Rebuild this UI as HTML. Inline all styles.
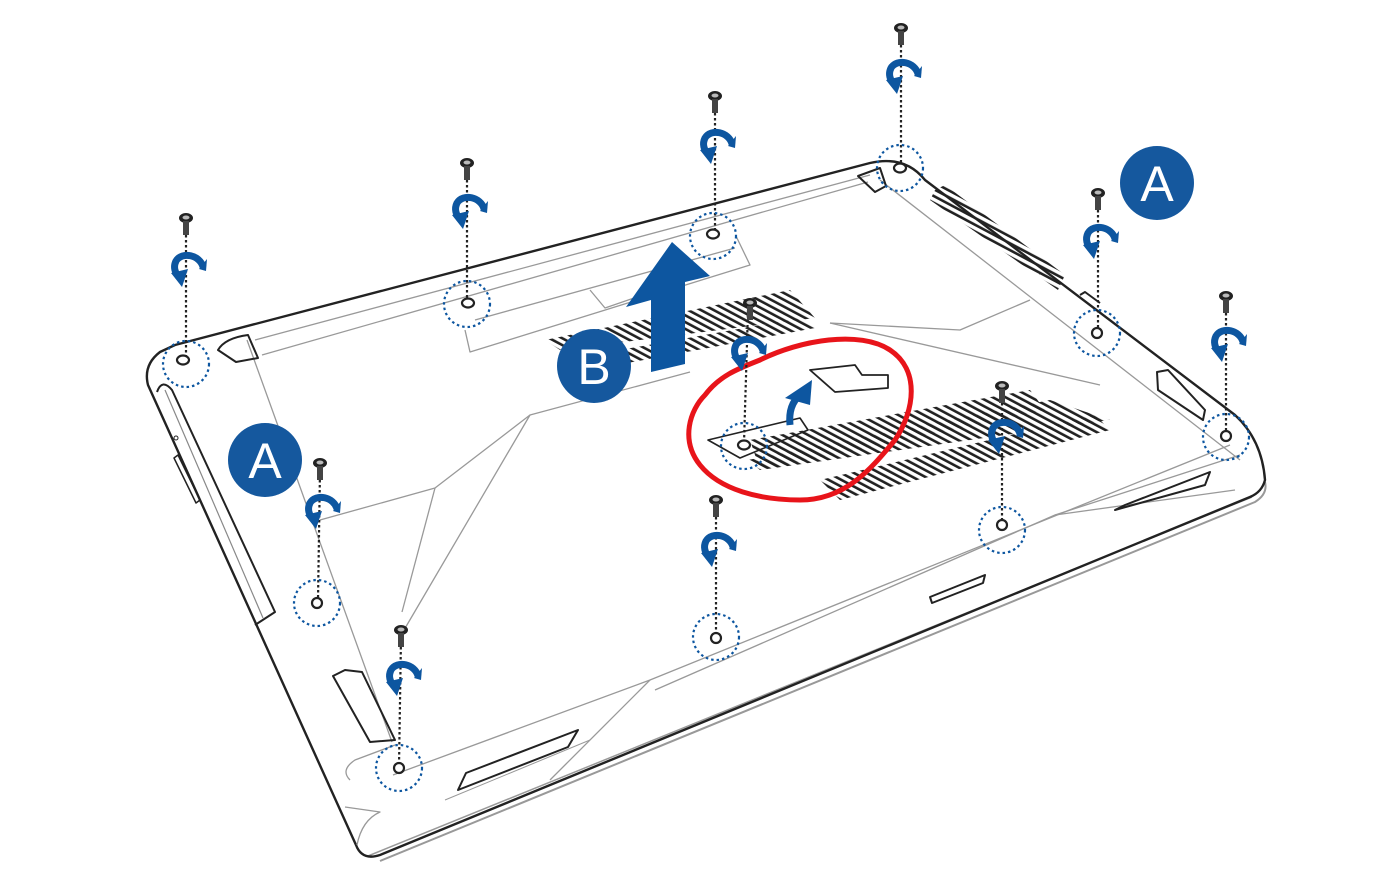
<!DOCTYPE html>
<html><head><meta charset="utf-8"><style>html,body{margin:0;padding:0;background:#fff}svg{display:block}</style></head>
<body>
<svg width="1392" height="870" viewBox="0 0 1392 870" xmlns="http://www.w3.org/2000/svg">
<defs>
<pattern id="h" width="6" height="20" patternUnits="userSpaceOnUse" patternTransform="rotate(-62)">
<rect x="0" y="0" width="2.6" height="20" fill="#222"/>
</pattern>
<symbol id="screw" viewBox="-8 -6 16 26" overflow="visible">
<ellipse cx="0" cy="0" rx="7" ry="5" fill="#222"/>
<ellipse cx="0" cy="-0.5" rx="3.5" ry="2" fill="#bbb"/>
<rect x="-3" y="3" width="6" height="14" fill="#444"/>
</symbol>
<symbol id="rot" viewBox="-20 -20 40 40" overflow="visible">
<path d="M15,2 C12,-10 -6,-14 -12,-4 C-15,2 -13,8 -9,12" fill="none" stroke="#0d56a0" stroke-width="7"/>
<polygon points="-17,8 0,4 -6,22" fill="#0d56a0"/>
<polygon points="11,4 19,-6 18,6" fill="#0d56a0"/>
</symbol>
</defs>

<g fill="none" stroke-linejoin="round">
<path d="M380 861 L1255 502 Q1268 494 1265 482" stroke="#999" stroke-width="2"/>
<path d="M368 856 L1252 497" stroke="#999" stroke-width="1.5"/>
<path d="M175 345 L870 163 Q905 155 925 180 L1235 415 Q1262 440 1265 480 Q1262 492 1250 497 L380 855 Q362 861 356 845 L148 385 Q143 365 160 352 Z" stroke="#222" stroke-width="2.4"/>
<path d="M157 392 Q162 378 172 390 L275 612 L255 625" stroke="#222" stroke-width="2"/>
<path d="M165 390 L263 618" stroke="#888" stroke-width="1.2"/>
<path d="M178 455 L200 500 L196 503 L174 458 Z" stroke="#222" stroke-width="1.5"/>
<circle cx="176" cy="438" r="2" stroke="#222"/>
<g stroke="#999" stroke-width="1.3">
<path d="M255 340 L870 175"/>
<path d="M247 340 L392 742"/>
<path d="M262 355 L868 182"/>
<path d="M320 520 L435 488 L530 415 L690 372"/>
<path d="M435 488 L402 612"/>
<path d="M530 415 L404 630"/>
<path d="M395 745 L355 760 Q340 770 350 780"/>
<path d="M345 807 L380 812 Q362 820 357 845"/>
<path d="M393 775 L650 680 L1230 445"/>
<path d="M650 680 L550 780"/>
<path d="M655 690 L1055 515 L1240 455"/>
<path d="M1055 515 L1235 490"/>
<path d="M830 323 L1100 385"/>
<path d="M830 323 L960 330 L1030 300"/>
<path d="M880 180 L1240 460"/>
<path d="M465 330 L470 352 L750 265 L736 236"/>
<path d="M475 320 L735 248"/>
<path d="M590 290 L605 308 L640 296"/>
</g>
<path d="M218 350 Q225 338 248 335 L258 358 L236 362 Z" stroke="#222" stroke-width="2"/>
<path d="M858 176 L880 168 L886 186 L875 192 Z" stroke="#222" stroke-width="2"/>
<path d="M333 676 L345 670 L362 672 L395 740 L370 742 Z" stroke="#222" stroke-width="2"/>
<path d="M466 773 L578 730 L568 747 L458 790 Z" stroke="#222" stroke-width="2"/>
<path d="M445 800 L590 740" stroke="#999"/>
<path d="M1125 505 L1210 472 L1205 485 L1115 510 Z" stroke="#222" stroke-width="2"/>
<path d="M930 597 L985 575 L983 583 L932 603 Z" stroke="#222" stroke-width="2"/>
<path d="M1157 372 L1168 370 L1205 410 L1203 420 L1158 390 Z" stroke="#222" stroke-width="2"/>
<path d="M1080 295 L1085 292 L1100 303" stroke="#222" stroke-width="2"/>
<path d="M810 370 L855 365 L862 375 L888 375 L888 388 L835 392 Z" stroke="#222" stroke-width="1.8"/>
<path d="M708 440 L800 418 L808 430 L740 458 Z" stroke="#222" stroke-width="1.6"/>
</g>

<polygon points="545,340 790,290 815,318 560,350" fill="url(#h)"/>
<polygon points="575,358 800,318 815,328 590,370" fill="url(#h)"/>
<polygon points="750,440 1030,390 1045,410 760,470" fill="url(#h)"/>
<polygon points="748,460 1050,400 1110,420 760,470" fill="url(#h)"/>
<polygon points="820,480 1095,415 1110,430 840,500" fill="url(#h)"/>
<polygon points="935,190 945,185 1065,275 1058,290 930,200" fill="url(#h)"/>

<polygon points="651,372 685,364 685,282 710,276 672,242 626,307 651,300" fill="#0d56a0"/>

<path d="M790 425 Q788 405 800 395" stroke="#0d56a0" stroke-width="7" fill="none"/>
<polygon points="785,398 812,380 810,405" fill="#0d56a0"/>

<path d="M760 360 C800 340 860 330 890 350 C920 370 915 410 895 440 C870 470 845 500 800 500 C760 500 720 490 700 465 C680 440 690 410 705 395 C720 375 740 368 760 360 Z" fill="none" stroke="#e8141a" stroke-width="5"/>

<g stroke="#222" stroke-width="2.2" stroke-dasharray="2.5 2.5">
<line x1="186" y1="225" x2="186" y2="356"/>
<line x1="467" y1="170" x2="467" y2="300"/>
<line x1="715" y1="103" x2="715" y2="232"/>
<line x1="901" y1="35" x2="901" y2="166"/>
<line x1="1098" y1="200" x2="1098" y2="330"/>
<line x1="1226" y1="303" x2="1226" y2="433"/>
<line x1="320" y1="470" x2="318" y2="600"/>
<line x1="401" y1="637" x2="399" y2="766"/>
<line x1="716" y1="507" x2="716" y2="635"/>
<line x1="1002" y1="393" x2="1002" y2="523"/>
<line x1="748" y1="310" x2="744" y2="443"/>
</g>
<g fill="none" stroke="#0d56a0" stroke-width="2.2" stroke-dasharray="2.5 3">
<circle cx="186" cy="364" r="23"/>
<circle cx="467" cy="304" r="23"/>
<circle cx="713" cy="236" r="23"/>
<circle cx="900" cy="168" r="23"/>
<circle cx="1097" cy="333" r="23"/>
<circle cx="1226" cy="437" r="23"/>
<circle cx="317" cy="603" r="23"/>
<circle cx="399" cy="768" r="23"/>
<circle cx="716" cy="637" r="23"/>
<circle cx="1002" cy="530" r="23"/>
<circle cx="744" cy="446" r="23"/>
</g>
<g fill="#fff" stroke="#222" stroke-width="2.2">
<ellipse cx="183" cy="360" rx="6" ry="4.5"/>
<ellipse cx="468" cy="303" rx="6" ry="4.5"/>
<ellipse cx="713" cy="234" rx="6" ry="4.5"/>
<ellipse cx="900" cy="168" rx="6" ry="4.5"/>
<ellipse cx="1097" cy="333" rx="5" ry="5"/>
<ellipse cx="1226" cy="436" rx="5" ry="5"/>
<ellipse cx="317" cy="603" rx="5" ry="5"/>
<ellipse cx="399" cy="768" rx="5" ry="5"/>
<ellipse cx="716" cy="638" rx="5" ry="5"/>
<ellipse cx="1002" cy="525" rx="5" ry="5"/>
<ellipse cx="744" cy="445" rx="6" ry="4.5"/>
</g>
<g>
<use href="#screw" x="178" y="212" width="16" height="26"/>
<use href="#screw" x="459" y="157" width="16" height="26"/>
<use href="#screw" x="707" y="90" width="16" height="26"/>
<use href="#screw" x="893" y="22" width="16" height="26"/>
<use href="#screw" x="1090" y="187" width="16" height="26"/>
<use href="#screw" x="1218" y="290" width="16" height="26"/>
<use href="#screw" x="312" y="457" width="16" height="26"/>
<use href="#screw" x="393" y="624" width="16" height="26"/>
<use href="#screw" x="708" y="494" width="16" height="26"/>
<use href="#screw" x="994" y="380" width="16" height="26"/>
<use href="#screw" x="742" y="297" width="16" height="26"/>
</g>
<g>
<use href="#rot" x="168" y="245" width="40" height="40"/>
<use href="#rot" x="449" y="187" width="40" height="40"/>
<use href="#rot" x="697" y="122" width="40" height="40"/>
<use href="#rot" x="883" y="52" width="40" height="40"/>
<use href="#rot" x="1080" y="217" width="40" height="40"/>
<use href="#rot" x="1208" y="320" width="40" height="40"/>
<use href="#rot" x="302" y="487" width="40" height="40"/>
<use href="#rot" x="383" y="654" width="40" height="40"/>
<use href="#rot" x="698" y="525" width="40" height="40"/>
<use href="#rot" x="985" y="412" width="40" height="40"/>
<use href="#rot" x="728" y="329" width="40" height="40"/>
</g>

<g font-family="Liberation Sans, sans-serif" font-size="50" fill="#fff" text-anchor="middle">
<circle cx="1157" cy="183" r="37" fill="#15589e"/>
<text x="1157" y="201">A</text>
<circle cx="265" cy="460" r="37" fill="#15589e"/>
<text x="265" y="478">A</text>
<circle cx="594" cy="366" r="37" fill="#15589e"/>
<text x="594" y="384">B</text>
</g>
</svg>
</body></html>
